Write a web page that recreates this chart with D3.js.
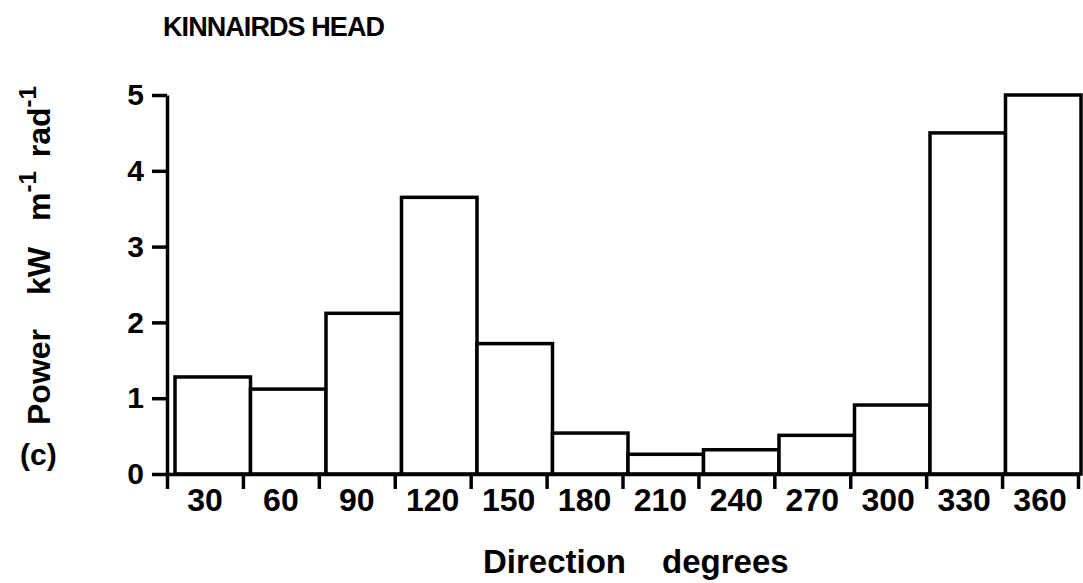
<!DOCTYPE html>
<html>
<head>
<meta charset="utf-8">
<script src="https://cdn.jsdelivr.net/npm/d3@7"></script>
<style>
  body { margin: 0; background: #fff; }
  svg { display: block; font-family: "Liberation Sans", Arial, sans-serif; font-weight: bold; }
</style>
</head>
<body>
<svg id="viz" width="1083" height="583"></svg>
<script>
// direction bins (upper edge, degrees) and wave power per bin
const directions = [30, 60, 90, 120, 150, 180, 210, 240, 270, 300, 330, 360]
const power = [1.28, 1.12, 2.12, 3.65, 1.72, 0.54, 0.26, 0.32, 0.51, 0.91, 4.5, 5.0]
const yTicks = [0, 1, 2, 3, 4, 5]
const xTicks = [0, 30, 60, 90, 120, 150, 180, 210, 240, 270, 300, 330, 360]

const data = directions.map((d, i) => ({dir: d, value: power[i]}))

var svg = d3.select("svg#viz")

const x = d3.scaleLinear().domain([0, 360]).range([167, 1078])
// bars sit a little right of the ticks in the original
const xBar = d3.scaleBand().domain(directions).range([175, 1081]).padding(0)
const y = d3.scaleLinear().domain([0, 5]).range([474, 95])

// bars
svg.append("g").selectAll("rect.bar").data(data)
    .join("rect")
    .attr("class", "bar")
    .attr("x", d => xBar(d.dir))
    .attr("y", d => y(d.value))
    .attr("width", xBar.bandwidth())
    .attr("height", d => y(0) - y(d.value))
    .attr("fill", "#fff")
    .attr("stroke", "#000")
    .attr("stroke-width", 3.5)

// axes
const yAxis = d3.axisLeft(y).tickValues(yTicks).tickSize(15).tickSizeOuter(0).tickPadding(8)
    .tickFormat(d3.format("d"))
const xAxis = d3.axisBottom(x).tickValues(xTicks).tickSize(15).tickSizeOuter(0).tickFormat("")

let axes = svg.append("g").attr("class", "axes")
axes.append("g").attr("transform", `translate(0,${y(0)})`).call(xAxis)
axes.append("g").attr("transform", `translate(${x(0)},0)`).call(yAxis)

axes.selectAll("path.domain, .tick line")
    .attr("stroke", "#000")
    .attr("stroke-width", 3.5)
axes.selectAll(".tick text")
    .attr("fill", "#000")
    .attr("font-size", 30)
    .attr("font-family", "Liberation Sans, Arial, sans-serif")
    .attr("font-weight", "bold")

// x labels centred between ticks
svg.append("g").selectAll("text.xlab").data(directions)
    .join("text")
    .attr("class", "xlab")
    .attr("x", d => x(d - 15))
    .attr("y", 511)
    .attr("text-anchor", "middle")
    .attr("font-size", 32)
    .text(d => d)

// titles
svg.append("text")
    .attr("x", 163).attr("y", 36)
    .attr("font-size", 27)
    .attr("textLength", 222)
    .text("KINNAIRDS HEAD")

let xt = svg.append("text")
    .attr("x", 483).attr("y", 573)
    .attr("font-size", 33)
xt.append("tspan").text("Direction")
xt.append("tspan").attr("dx", 36).text("degrees")

let yt = svg.append("text")
    .attr("transform", "translate(50,425) rotate(-90)")
    .attr("font-size", 32)
yt.append("tspan").text("Power")
yt.append("tspan").attr("dx", 34).text("kW")
yt.append("tspan").attr("dx", 26).text("m")
yt.append("tspan").attr("dy", -14).attr("font-size", 24).text("-1")
yt.append("tspan").attr("dy", 14).attr("dx", 14).text("rad")
yt.append("tspan").attr("dy", -14).attr("font-size", 24).text("-1")

svg.append("text")
    .attr("x", 20).attr("y", 465)
    .attr("font-size", 30)
    .text("(c)")
</script>
</body>
</html>
